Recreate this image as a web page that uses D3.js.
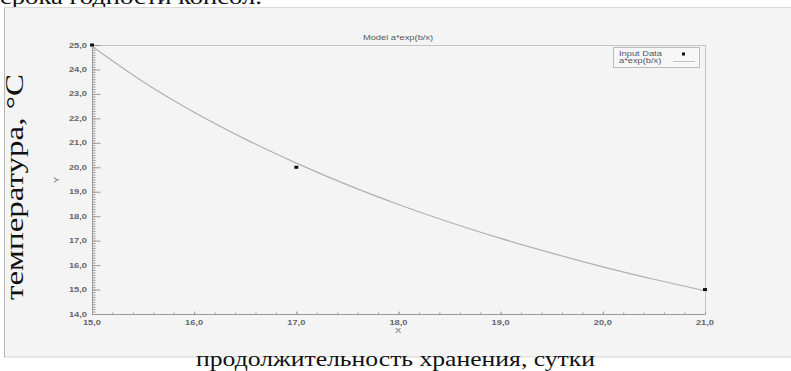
<!DOCTYPE html>
<html><head><meta charset="utf-8">
<script src="https://cdn.jsdelivr.net/npm/d3@7"></script>
<style>html,body{margin:0;padding:0;background:#fff;overflow:hidden}</style>
</head><body>
<svg id="c" width="791" height="371"></svg>
<script>
// Data
const inputX = [15, 17, 21];
const inputY = [25, 20, 15];
const curveX = [15, 15.5, 16, 16.5, 17, 17.5, 18, 18.5, 19, 19.5, 20, 20.5, 21];
const curveY = [24.95, 23.5, 22.25, 21.15, 20.17, 19.28, 18.48, 17.75, 17.09, 16.49, 15.93, 15.42, 14.95];
const xTicks = [15, 16, 17, 18, 19, 20, 21];
const yTicks = [14, 15, 16, 17, 18, 19, 20, 21, 22, 23, 24, 25];
const chartTitle = "Model a*exp(b/x)";
const legendLabels = ["Input Data", "a*exp(b/x)"];
const xLabel = "X", yLabel = "Y";
const outerXLabel = "продолжительность хранения, сутки";
const outerYLabel = "температура, °C";
const topText = "срока годности консол.";

const svg = d3.select("#c");
const fmt = v => d3.format(".1f")(v).replace(".", ",");
const L = 92, R = 705, T = 45, B = 314;
const SX = 1.33; // horizontal stretch of small chart texts
const x = d3.scaleLinear().domain([15, 21]).range([L, R]);
const y = d3.scaleLinear().domain([14, 25]).range([B, T]);

// cut-off text at top
svg.append("text").attr("x", 0).attr("y", 4).attr("font-family", "Liberation Serif, serif")
  .attr("font-size", 22).attr("fill", "#111").attr("textLength", 262).attr("lengthAdjust", "spacingAndGlyphs")
  .text(topText);

// panel
svg.append("rect").attr("x", 4.5).attr("y", 7.5).attr("width", 790).attr("height", 349.5)
  .attr("fill", "#f4f4f4").attr("stroke", "#d8d8d8").attr("stroke-width", 1);
svg.append("line").attr("x1", 4.5).attr("x2", 4.5).attr("y1", 8).attr("y2", 357).attr("stroke", "#b8b8b8");

const tickFont = "Liberation Sans, Arial, sans-serif";
const g = svg.append("g");

function smallText(px, py, txt, anchor, opts = {}) {
  const t = g.append("text")
    .attr("transform", `translate(${px},${py}) ${opts.rot ? "rotate(-90)" : ""} scale(${SX},1)`)
    .attr("text-anchor", anchor)
    .attr("font-family", tickFont).attr("font-size", opts.size || 7)
    .attr("font-weight", opts.bold ? "bold" : "normal")
    .attr("fill", opts.fill || "#666").text(txt);
  return t;
}

// frame top and right
g.append("line").attr("x1", L).attr("x2", R).attr("y1", T + 0.5).attr("y2", T + 0.5).attr("stroke", "#c4c4c4");
g.append("line").attr("x1", R + 0.5).attr("x2", R + 0.5).attr("y1", T).attr("y2", B).attr("stroke", "#c4c4c4");

// minor ticks
const yMinor = d3.range(14, 25.001, 0.1).map(v => +v.toFixed(1));
const xMinor = d3.range(15, 21.001, 0.2).map(v => +v.toFixed(1));
const yAx = g.append("g").attr("transform", `translate(${L + 0.5},0)`);
yAx.call(d3.axisRight(y).tickValues(yMinor).tickSize(3).tickFormat(""));
yAx.append("g").call(d3.axisRight(y).tickValues(yTicks).tickSize(8).tickFormat(""));
yAx.selectAll("path,line").attr("stroke", "#9a9a9a");
yAx.selectAll(".domain").attr("d", `M0,${T}V${B}`);
yTicks.forEach(d => smallText(87, y(d) + 2.5, fmt(d), "end", { bold: true }));

const xAx = g.append("g").attr("transform", `translate(0,${B + 0.5})`);
xAx.call(d3.axisTop(x).tickValues(xMinor).tickSize(2).tickFormat(""));
xAx.append("g").call(d3.axisTop(x).tickValues(xTicks).tickSize(3).tickFormat(""));
xAx.selectAll("path,line").attr("stroke", "#9a9a9a");
xAx.selectAll(".domain").attr("d", `M${L},0H${R}`);
xTicks.forEach(d => smallText(x(d), 325, fmt(d), "middle", { bold: true }));

// axis titles
smallText(398, 333, xLabel, "middle");
smallText(59, 180, yLabel, "middle", { rot: true });
smallText(398, 40, chartTitle, "middle", { fill: "#555" });

// curve
const line = d3.line().x((d, i) => x(curveX[i])).y(d => y(d)).curve(d3.curveMonotoneX);
g.append("path").datum(curveY).attr("d", line).attr("fill", "none").attr("stroke", "#b0b0b0").attr("stroke-width", 1.2);

// points
g.selectAll(".pt").data(inputX).join("rect")
  .attr("x", d => x(d) - 2).attr("y", (d, i) => y(inputY[i]) - 1.5).attr("width", 4).attr("height", 3)
  .attr("fill", "#111");

// legend
g.append("rect").attr("x", 613.5).attr("y", 47.5).attr("width", 86).attr("height", 20)
  .attr("fill", "#f7f7f7").attr("stroke", "#bdbdbd");
legendLabels.forEach((d, i) => smallText(619, 56 + i * 6.5, d, "start", { fill: "#555" }));
g.append("rect").attr("x", 682).attr("y", 52.5).attr("width", 3).attr("height", 3).attr("fill", "#111");
g.append("line").attr("x1", 673).attr("x2", 695).attr("y1", 61.5).attr("y2", 61.5).attr("stroke", "#c0c0c0");

// outer labels
svg.append("text").attr("x", 196).attr("y", 366)
  .attr("font-family", "Liberation Serif, serif").attr("font-size", 22).attr("fill", "#111")
  .attr("textLength", 399).attr("lengthAdjust", "spacingAndGlyphs").text(outerXLabel);
svg.append("text").attr("transform", "translate(23,300) rotate(-90)")
  .attr("font-family", "Liberation Serif, serif").attr("font-size", 26).attr("fill", "#111")
  .attr("textLength", 226).attr("lengthAdjust", "spacingAndGlyphs").text(outerYLabel);
</script>
</body></html>
